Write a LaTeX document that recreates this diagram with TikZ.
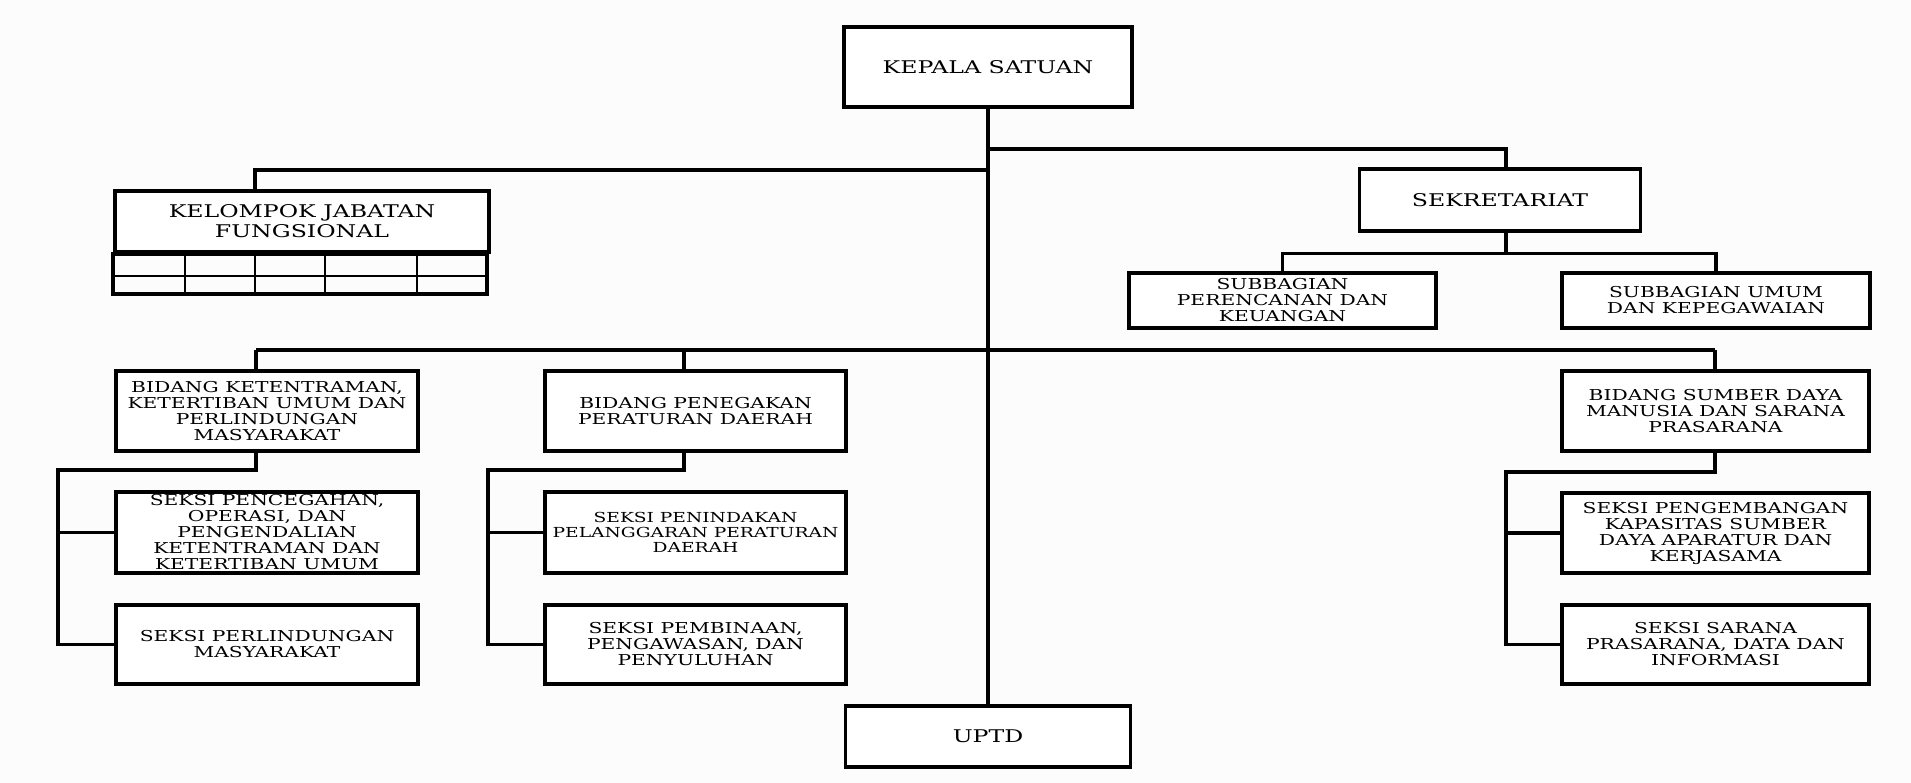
\documentclass[tikz,border=0pt]{standalone}
\usepackage{fontspec}
\newfontfamily\boxfont[FakeStretch=1.35]{DejaVu Serif}
\definecolor{latar}{RGB}{252,252,252}

\tikzset{
  unitbox/.style={draw, line width=3.6pt, fill=white, inner sep=0pt, align=center,
    font=\boxfont\fontsize{15}{16}\selectfont},
  bigbox/.style={unitbox, font=\boxfont\fontsize{17.5}{20}\selectfont},
  smallbox/.style={unitbox, font=\boxfont\fontsize{13.8}{15}\selectfont},
  link/.style={line width=3.4pt}
}

\begin{document}
\begin{tikzpicture}[x=1pt, y=-1pt, line join=miter]
            \fill[latar] (0,0) rectangle (1911,783);
            \useasboundingbox (0,0) rectangle (1911,783);
            % top and bottom
            \node[bigbox, minimum width=288, minimum height=80] (kepala) at (988,67) {KEPALA SATUAN};
            \node[bigbox, minimum width=285, minimum height=61] (uptd) at (988,736.5) {UPTD};
            \draw[link] (kepala.south) -- (uptd.north);
            % kelompok jabatan fungsional
            \node[bigbox, minimum width=374, minimum height=61] (kjf) at (302,221.5) {KELOMPOK JABATAN\\FUNGSIONAL};
            \draw[line width=3.6pt] (kjf.south west) rectangle ++(374,40);
            \draw[line width=2.4pt] (kjf.south west) ++(0,22) -- ++(374,0);
            \foreach \dx in {72,142,212,304}
                \draw[line width=2.4pt] (kjf.south west) ++(\dx,0) -- ++(0,40);
            \coordinate (a1) at (255,170);
            \coordinate (a2) at (988,170);
            \draw[link] (a2) -- (a1) -- (a1 |- kjf.north);
            % sekretariat
            \node[bigbox, minimum width=281, minimum height=62] (sekr) at (1500,200) {SEKRETARIAT};
            \node[unitbox, minimum width=307, minimum height=55] (subpk) at (1282.5,300.5) {SUBBAGIAN\\PERENCANAN DAN\\KEUANGAN};
            \node[unitbox, minimum width=308, minimum height=55] (subuk) at (1716,300.5) {SUBBAGIAN UMUM\\DAN KEPEGAWAIAN};
            \coordinate (b1) at (988,149);
            \coordinate (b3) at (1506,149);
            \draw[link] (b1) -- (b3) -- (b3 |- sekr.north);
            \draw[link] (b3 |- sekr.south) -- ++(0,21) coordinate (b2);
            \draw[link] (subpk.north) |- (b2) -| (subuk.north);
            % bidang
            \node[unitbox, minimum width=302, minimum height=80] (bk) at (267,411) {BIDANG KETENTRAMAN,\\KETERTIBAN UMUM DAN\\PERLINDUNGAN\\MASYARAKAT};
            \node[unitbox, minimum width=302, minimum height=81] (sk1) at (267,532.5) {SEKSI PENCEGAHAN,\\OPERASI, DAN\\PENGENDALIAN\\KETENTRAMAN DAN\\KETERTIBAN UMUM};
            \node[unitbox, minimum width=302, minimum height=79] (sk2) at (267,644.5) {SEKSI PERLINDUNGAN\\MASYARAKAT};
            \node[unitbox, minimum width=301, minimum height=80] (bp) at (695.5,411) {BIDANG PENEGAKAN\\PERATURAN DAERAH};
            \node[smallbox, minimum width=301, minimum height=81] (sp1) at (695.5,532.5) {SEKSI PENINDAKAN\\PELANGGARAN PERATURAN\\DAERAH};
            \node[unitbox, minimum width=301, minimum height=79] (sp2) at (695.5,644.5) {SEKSI PEMBINAAN,\\PENGAWASAN, DAN\\PENYULUHAN};
            \node[unitbox, minimum width=307, minimum height=80] (bs) at (1715.5,411) {BIDANG SUMBER DAYA\\MANUSIA DAN SARANA\\PRASARANA};
            \node[unitbox, minimum width=307, minimum height=80] (ss1) at (1715.5,533) {SEKSI PENGEMBANGAN\\KAPASITAS SUMBER\\DAYA APARATUR DAN\\KERJASAMA};
            \node[unitbox, minimum width=307, minimum height=79] (ss2) at (1715.5,644.5) {SEKSI SARANA\\PRASARANA, DATA DAN\\INFORMASI};
            \coordinate (c1) at (256,350);
            \coordinate (c2) at (684,350);
            \coordinate (c3) at (1715,350);
            \draw[link] (c1) -- (c3);
            \draw[link] (c1) -- (c1 |- bk.north);
            \draw[link] (c2) -- (c2 |- bp.north);
            \draw[link] (c3) -- (c3 |- bs.north);
            % seksi brackets
            \coordinate (d1) at (58,470);
            \coordinate (d2) at (488,470);
            \coordinate (d3) at (1506,472);
            \draw[link] (c1 |- bk.south) |- (d1) |- (sk2.west);
            \draw[link] (d1 |- sk1.west) -- (sk1.west);
            \draw[link] (c2 |- bp.south) |- (d2) |- (sp2.west);
            \draw[link] (d2 |- sp1.west) -- (sp1.west);
            \draw[link] (c3 |- bs.south) |- (d3) |- (ss2.west);
            \draw[link] (d3 |- ss1.west) -- (ss1.west);
        \end{tikzpicture}
\end{document}
